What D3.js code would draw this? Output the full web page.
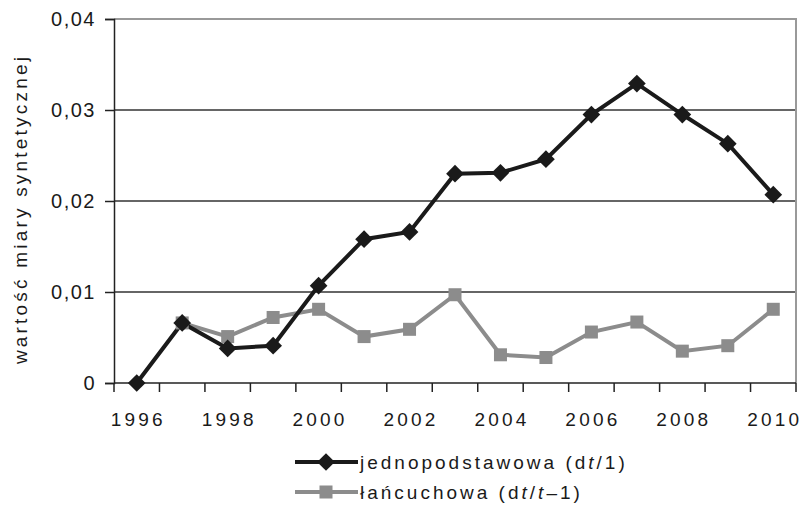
<!DOCTYPE html>
<html>
<head>
<meta charset="utf-8">
<script src="https://cdn.jsdelivr.net/npm/d3@7"></script>
<style>
  body { margin: 0; background: #fff; }
  text { font-family: "Liberation Sans", Arial, sans-serif; fill: #1a1a1a; }
</style>
</head>
<body>
<div id="chart"></div>
<script>
const years = [1996, 1997, 1998, 1999, 2000, 2001, 2002, 2003, 2004, 2005, 2006, 2007, 2008, 2009, 2010]
const jednopodstawowa = [0, 0.0066, 0.0038, 0.0041, 0.0107, 0.0158, 0.0166, 0.0230, 0.0231, 0.0246, 0.0295, 0.0329, 0.0295, 0.0263, 0.0207]
const lancuchowa = [null, 0.0066, 0.0051, 0.0072, 0.0081, 0.0051, 0.0059, 0.0097, 0.0031, 0.0028, 0.0056, 0.0067, 0.0035, 0.0041, 0.0081]
const yTicks = [0, 0.01, 0.02, 0.03, 0.04]
const xLabels = [1996, 1998, 2000, 2002, 2004, 2006, 2008, 2010]

const width = 801,
  height = 532,
  margin = { "top": 19, "bottom": 149, "right": 5, "left": 114 }

const svg = d3.select("#chart").append("svg")
  .attr("width", width)
  .attr("height", height)

let x = d3.scaleBand()
  .domain(years)
  .range([margin.left, width - margin.right])

let y = d3.scaleLinear()
  .domain([0, 0.04])
  .range([height - margin.bottom, margin.top])

let cx = (d) => x(d) + x.bandwidth() / 2

// gridlines
svg.append("g")
  .selectAll("line")
  .data(yTicks.filter(d => d > 0 && d < 0.04))
  .enter()
  .append("line")
  .attr("x1", margin.left)
  .attr("x2", width - margin.right)
  .attr("y1", d => y(d))
  .attr("y2", d => y(d))
  .attr("stroke", "#333")
  .attr("stroke-width", 1.3)

// top and right border (gray)
svg.append("path")
  .attr("d", `M${margin.left},${y(0.04)}H${width - margin.right}V${y(0)}`)
  .attr("fill", "none")
  .attr("stroke", "#999")
  .attr("stroke-width", 2)

// y axis
let yAxis = svg.append("g")
  .attr("transform", `translate(${margin.left},0)`)
  .call(d3.axisLeft(y).tickValues(yTicks).tickSize(9).tickPadding(9)
    .tickFormat(d => d === 0 ? "0" : d3.format(".2f")(d).replace(".", ",")))
yAxis.select(".domain").attr("stroke", "#222").attr("stroke-width", 1.5)
yAxis.selectAll(".tick line").attr("stroke", "#222").attr("stroke-width", 1.5)
yAxis.selectAll("text")
  .style("font-size", "20px")
  .style("font-family", "Liberation Sans, Arial, sans-serif")
  .attr("letter-spacing", 1.5)
  .attr("fill", "#1a1a1a")

// x axis: ticks between categories
let xg = svg.append("g")
xg.append("line")
  .attr("x1", margin.left)
  .attr("x2", width - margin.right)
  .attr("y1", y(0))
  .attr("y2", y(0))
  .attr("stroke", "#222")
  .attr("stroke-width", 1.5)
xg.selectAll(".xt")
  .data(years.concat(["end"]))
  .enter()
  .append("line")
  .attr("class", "xt")
  .attr("x1", (d) => d === "end" ? width - margin.right : x(d))
  .attr("x2", (d) => d === "end" ? width - margin.right : x(d))
  .attr("y1", y(0))
  .attr("y2", y(0) + 9)
  .attr("stroke", "#222")
  .attr("stroke-width", 1.5)
xg.selectAll("text")
  .data(xLabels)
  .enter()
  .append("text")
  .text(d => d)
  .attr("x", d => cx(d) + 1.5)
  .attr("y", y(0) + 43)
  .attr("text-anchor", "middle")
  .attr("letter-spacing", 3.2)
  .style("font-size", "19px")

// y axis title
svg.append("text")
  .text("wartość miary syntetycznej")
  .attr("transform", `translate(27,${(y(0) + y(0.04)) / 2 + 8}) rotate(-90)`)
  .attr("text-anchor", "middle")
  .attr("letter-spacing", 3.2)
  .style("font-size", "19px")

// lines
let line = d3.line()
  .defined(d => d.v !== null)
  .x(d => cx(d.year))
  .y(d => y(d.v))

let grayData = years.map((year, i) => ({ year: year, v: lancuchowa[i] }))
let blackData = years.map((year, i) => ({ year: year, v: jednopodstawowa[i] }))

svg.append("path")
  .attr("d", line(grayData))
  .attr("fill", "none")
  .attr("stroke", "#8c8c8c")
  .attr("stroke-width", 4)

svg.append("path")
  .attr("d", line(blackData))
  .attr("fill", "none")
  .attr("stroke", "#1a1a1a")
  .attr("stroke-width", 4)

let diamond = d3.symbol().type(d3.symbolDiamond2).size(200)

svg.append("g")
  .selectAll("rect")
  .data(grayData.filter(d => d.v !== null))
  .enter()
  .append("rect")
  .attr("x", d => cx(d.year) - 6.5)
  .attr("y", d => y(d.v) - 6.5)
  .attr("width", 13)
  .attr("height", 13)
  .attr("fill", "#8c8c8c")

svg.append("g")
  .selectAll("path")
  .data(blackData)
  .enter()
  .append("path")
  .attr("d", diamond)
  .attr("transform", d => `translate(${cx(d.year)},${y(d.v)})`)
  .attr("fill", "#1a1a1a")

// legend
let legend = svg.append("g")
let legendItems = [
  { label: ["jednopodstawowa (d", "t", "/1)"], color: "#1a1a1a", marker: "diamond" },
  { label: ["łańcuchowa (d", "t", "/", "t", "–1)"], color: "#8c8c8c", marker: "square" }
]
legendItems.forEach((item, i) => {
  let ly = 462 + i * 30
  legend.append("line")
    .attr("x1", 295)
    .attr("x2", 358)
    .attr("y1", ly)
    .attr("y2", ly)
    .attr("stroke", item.color)
    .attr("stroke-width", 4)
  if (item.marker === "diamond") {
    legend.append("path")
      .attr("d", diamond)
      .attr("transform", `translate(326,${ly})`)
      .attr("fill", item.color)
  } else {
    legend.append("rect")
      .attr("x", 319.5)
      .attr("y", ly - 6.5)
      .attr("width", 13)
      .attr("height", 13)
      .attr("fill", item.color)
  }
  let t = legend.append("text")
    .attr("x", 360)
    .attr("y", ly + 7)
    .attr("letter-spacing", 3)
    .style("font-size", "19px")
  item.label.forEach((part) => {
    t.append("tspan")
      .text(part)
      .style("font-style", part === "t" ? "italic" : "normal")
  })
})
</script>
</body>
</html>
